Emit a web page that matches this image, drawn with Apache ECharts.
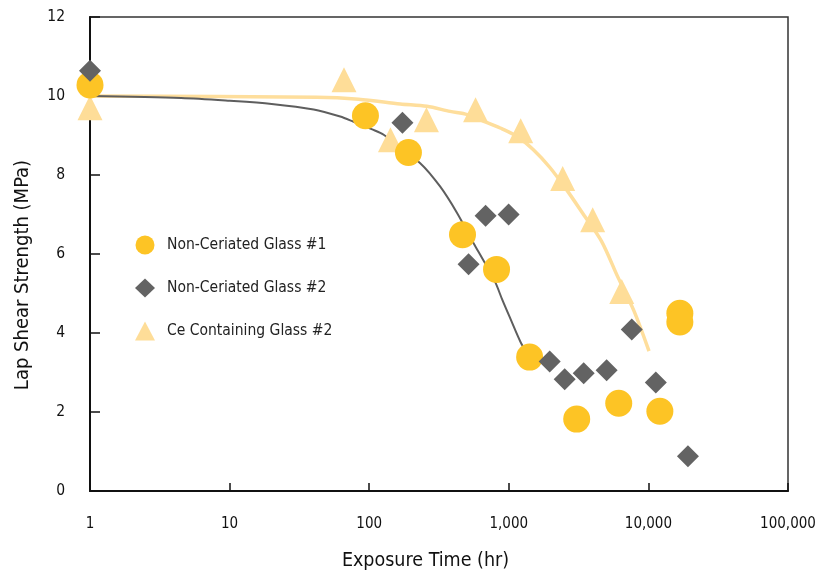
<!DOCTYPE html>
<html>
<head>
<meta charset="utf-8">
<script src="https://cdn.jsdelivr.net/npm/echarts@6/dist/echarts.min.js"></script>
<style>
html,body{margin:0;padding:0;background:#fff;}
#chart{width:821px;height:576px;}
</style>
</head>
<body>
<div id="chart"></div>
<script>
// ---- data (exposure time in hr, lap shear strength in MPa) ----
const seriesNames = ['Non-Ceriated Glass #1', 'Non-Ceriated Glass #2', 'Ce Containing Glass #2'];

const glass1Time = [1, 94, 191, 466, 817, 1410, 3065, 6130, 12080, 16800, 16800];
const glass1Strength = [10.28, 9.50, 8.57, 6.49, 5.61, 3.39, 1.82, 2.22, 2.02, 4.50, 4.28];

const glass2Time = [1, 173, 515, 682, 997, 1963, 2513, 3440, 5020, 7600, 11300, 19200];
const glass2Strength = [10.64, 9.32, 5.74, 6.97, 7.00, 3.28, 2.83, 2.98, 3.06, 4.09, 2.75, 0.88];

const ceTime = [1, 66, 142, 257, 578, 1216, 2432, 3990, 6440];
const ceStrength = [9.70, 10.41, 8.89, 9.40, 9.65, 9.12, 7.91, 6.87, 5.05];

// fitted trend curves
const fitGrayTime = [1, 4.5, 10, 20, 40, 62, 76, 104, 127, 232, 322, 426, 558, 662, 801, 896, 1030, 1218, 1410];
const fitGrayStrength = [10.0, 9.95, 9.88, 9.80, 9.66, 9.48, 9.36, 9.16, 9.02, 8.30, 7.71, 7.04, 6.28, 5.82, 5.28, 4.85, 4.35, 3.76, 3.39];

const fitCeTime = [1, 42, 84, 167, 259, 380, 505, 662, 868, 1140, 1500, 1970, 2590, 3400, 4620, 6000, 7880, 10100];
const fitCeStrength = [10.0, 9.97, 9.92, 9.80, 9.74, 9.61, 9.53, 9.36, 9.19, 8.98, 8.64, 8.19, 7.63, 7.02, 6.32, 5.44, 4.56, 3.54];

const yTicks = [0, 2, 4, 6, 8, 10, 12];
const xTicks = [1, 10, 100, 1000, 10000, 100000];

function zip(a, b) { return a.map((v, i) => [v, b[i]]); }

const narrow = "'Liberation Sans Narrow', 'DejaVu Sans Condensed', 'Liberation Sans', sans-serif";

const chart = echarts.init(document.getElementById('chart'));
chart.setOption({
  animation: false,
  backgroundColor: '#ffffff',
  grid: {
    left: 90, right: 33, top: 17, bottom: 84,
    show: true, borderColor: '#333', borderWidth: 1.5
  },
  legend: {
    orient: 'vertical',
    left: 130, top: 230,
    itemWidth: 20, itemHeight: 19, itemGap: 23,
    data: seriesNames,
    textStyle: { fontFamily: narrow, fontSize: 15.5, color: '#222', lineHeight: 20, padding: [0, 0, 0, 7] }
  },
  xAxis: {
    type: 'log', logBase: 10, min: xTicks[0], max: xTicks[xTicks.length - 1],
    name: 'Exposure Time (hr)', nameLocation: 'middle', nameGap: 60,
    nameTextStyle: { fontFamily: narrow, fontSize: 19.5, color: '#111', padding: [0, 27, 0, 0] },
    axisLine: { show: true, lineStyle: { color: '#111', width: 2 } },
    axisTick: { show: true, inside: true, length: 8, lineStyle: { color: '#111', width: 1.5 } },
    minorTick: { show: false },
    splitLine: { show: false },
    axisLabel: {
      margin: 26, fontFamily: narrow, fontSize: 15, color: '#111',
      formatter: v => Number(v).toLocaleString('en-US')
    }
  },
  yAxis: {
    type: 'value', min: yTicks[0], max: yTicks[yTicks.length - 1], interval: 2,
    name: 'Lap Shear Strength (MPa)', nameLocation: 'middle', nameGap: 57,
    nameTextStyle: { fontFamily: narrow, fontSize: 20, color: '#111', padding: [0, 42, 0, 0] },
    axisLine: { show: true, lineStyle: { color: '#111', width: 2 } },
    axisTick: { show: true, inside: true, length: 10, lineStyle: { color: '#111', width: 1.5 } },
    splitLine: { show: false },
    axisLabel: { margin: 25, fontFamily: narrow, fontSize: 15.5, color: '#111' }
  },
  series: [
    {
      name: 'fitCe', type: 'line', data: zip(fitCeTime, fitCeStrength),
      showSymbol: false, symbol: 'none', smooth: 0.3, z: 1, silent: true,
      lineStyle: { color: '#FEDE9C', width: 3.5 }
    },
    {
      name: 'fitGray', type: 'line', data: zip(fitGrayTime, fitGrayStrength),
      showSymbol: false, symbol: 'none', smooth: 0.3, z: 2, silent: true,
      lineStyle: { color: '#5E5E5E', width: 2 }
    },
    {
      name: seriesNames[2], type: 'scatter', data: zip(ceTime, ceStrength),
      symbol: 'triangle', symbolSize: 25, clip: false, z: 3,
      itemStyle: { color: '#FEDD98', opacity: 1 }
    },
    {
      name: seriesNames[0], type: 'scatter', data: zip(glass1Time, glass1Strength),
      symbol: 'circle', symbolSize: 27, clip: false, z: 4,
      itemStyle: { color: '#FDC425', opacity: 1 }
    },
    {
      name: seriesNames[1], type: 'scatter', data: zip(glass2Time, glass2Strength),
      symbol: 'diamond', symbolSize: 22, clip: false, z: 5,
      itemStyle: { color: '#636363', opacity: 1 }
    }
  ]
});
</script>
</body>
</html>
